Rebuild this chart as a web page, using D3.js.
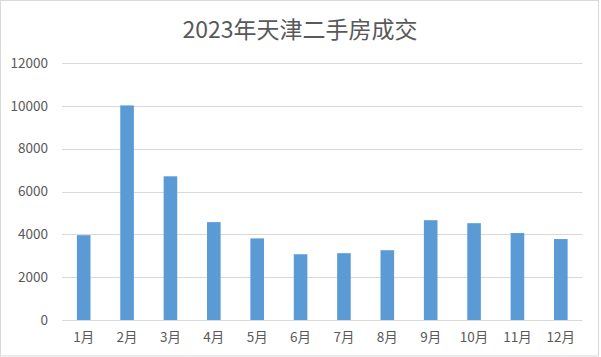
<!DOCTYPE html>
<html><head><meta charset="utf-8">
<script src="https://cdn.jsdelivr.net/npm/d3@7"></script>
<style>body{margin:0;background:#fff}svg{display:block}</style>
</head><body>
<svg id="c" width="601" height="357"></svg>
<script>
const categories = ["1月","2月","3月","4月","5月","6月","7月","8月","9月","10月","11月","12月"];
const values = [3960, 10020, 6710, 4570, 3810, 3070, 3120, 3260, 4660, 4520, 4060, 3780];
const yTicks = [0, 2000, 4000, 6000, 8000, 10000, 12000];
const title = "2023年天津二手房成交";

const svg = d3.select("#c");
const W = 601, H = 357;
const m = {l: 62, r: 18.5, t: 63, b: 37};
const font = "'Noto Sans CJK SC', 'Open Sans', sans-serif";

svg.append("rect").attr("x",0.5).attr("y",0.5).attr("width",W-3).attr("height",H-1.5)
  .attr("fill","#fff").attr("stroke","#d9d9d9").attr("stroke-width",1);

const x = d3.scaleBand().domain(categories).range([m.l, W - m.r])
  .paddingInner(0.6865).paddingOuter(0.6865/2);
const y = d3.scaleLinear().domain([0, 12000]).range([H - m.b, m.t]);

// gridlines
svg.append("g").selectAll("line").data(yTicks).join("line")
  .attr("x1", m.l).attr("x2", W - m.r)
  .attr("y1", d => Math.round(y(d)) + 0.5).attr("y2", d => Math.round(y(d)) + 0.5)
  .attr("stroke", "#d9d9d9").attr("stroke-width", 1);

// y axis labels
const yAxis = d3.axisLeft(y).tickValues(yTicks).tickSize(0).tickPadding(14).tickFormat(d3.format("d"));
const yg = svg.append("g").attr("transform", `translate(${m.l},0)`).call(yAxis);
yg.select(".domain").remove();
yg.selectAll("text").attr("fill","#595959").style("font-size","13.5px").style("font-family",font);

// bars
svg.append("g").selectAll("rect").data(values).join("rect")
  .attr("x", (d,i) => x(categories[i]))
  .attr("width", x.bandwidth())
  .attr("y", d => y(d))
  .attr("height", d => y(0) - y(d))
  .attr("fill", "#5b9bd5");

// x axis labels
const xAxis = d3.axisBottom(x).tickSize(0).tickPadding(12);
const xg = svg.append("g").attr("transform", `translate(0,${y(0)})`).call(xAxis);
xg.select(".domain").remove();
xg.selectAll("text").attr("fill","#595959").style("font-size","13.5px").style("font-family",font);

// title
svg.append("text").attr("x", 300).attr("y", 38).attr("text-anchor","middle")
  .attr("fill","#595959").style("font-size","23px").style("font-family",font).text(title);
</script>
</body></html>
